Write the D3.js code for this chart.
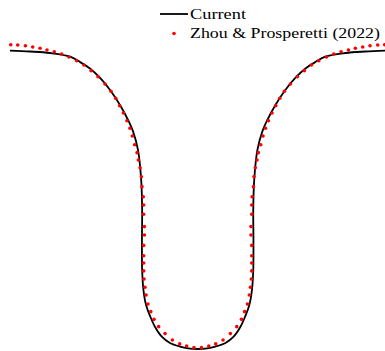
<!DOCTYPE html>
<html>
<head>
<meta charset="utf-8">
<script src="https://cdn.jsdelivr.net/npm/d3@7"></script>
<style>
  html, body { margin: 0; padding: 0; background: #fff; }
  svg { display: block; }
  text { font-family: "Liberation Serif", "DejaVu Serif", serif; fill: #000; }
</style>
</head>
<body>
<svg id="chart" width="385" height="351"></svg>
<script>
// Interface profile, present computation (continuous line)
const currentX = [-1.000, -0.893, -0.787, -0.680, -0.627, -0.574, -0.520, -0.467, -0.414, -0.371,
  -0.345, -0.318, -0.301, -0.296, -0.297, -0.296, -0.289, -0.275, -0.254, -0.227,
  -0.190, -0.148, -0.094, -0.041, 0.000,
  0.041, 0.094, 0.148, 0.190, 0.227, 0.254, 0.275, 0.289, 0.296, 0.297,
  0.296, 0.301, 0.318, 0.345, 0.371, 0.414, 0.467, 0.520, 0.574, 0.627,
  0.680, 0.787, 0.893, 1.000];
const currentY = [-0.003, -0.008, -0.016, -0.035, -0.064, -0.099, -0.149, -0.213, -0.293, -0.373,
  -0.432, -0.533, -0.693, -0.852, -1.012, -1.172, -1.279, -1.359, -1.417, -1.476,
  -1.529, -1.561, -1.580, -1.591, -1.593,
  -1.591, -1.580, -1.561, -1.529, -1.476, -1.417, -1.359, -1.279, -1.172, -1.012,
  -0.852, -0.693, -0.533, -0.432, -0.373, -0.293, -0.213, -0.149, -0.099, -0.064,
  -0.035, -0.016, -0.008, -0.003];

// Reference profile, Zhou & Prosperetti (2022) (markers)
const zpX = [-0.996, -0.959, -0.918, -0.879, -0.840, -0.803, -0.764, -0.725, -0.686, -0.645,
  -0.606, -0.568, -0.531, -0.494, -0.462, -0.437, -0.416, -0.396, -0.377, -0.361,
  -0.348, -0.336, -0.323, -0.316, -0.307, -0.300, -0.297, -0.290, -0.288, -0.288,
  -0.284, -0.284, -0.288, -0.288, -0.288, -0.288, -0.286, -0.281, -0.275, -0.265,
  -0.250, -0.233, -0.208, -0.174, -0.135, -0.096, -0.059, -0.020,
  0.020, 0.059, 0.096, 0.135, 0.174, 0.208, 0.233, 0.250,
  0.265, 0.275, 0.281, 0.286, 0.288, 0.288, 0.288, 0.288, 0.284, 0.284,
  0.288, 0.288, 0.290, 0.297, 0.300, 0.307, 0.316, 0.323, 0.336, 0.348,
  0.361, 0.377, 0.396, 0.416, 0.437, 0.462, 0.494, 0.531, 0.568, 0.606,
  0.645, 0.686, 0.725, 0.764, 0.803, 0.840, 0.879, 0.918, 0.959, 0.996];
const zpY = [0.028, 0.027, 0.023, 0.016, 0.009, 0.000, -0.009, -0.021, -0.037, -0.057,
  -0.080, -0.110, -0.142, -0.181, -0.220, -0.257, -0.297, -0.336, -0.377, -0.417,
  -0.458, -0.505, -0.547, -0.586, -0.627, -0.675, -0.728, -0.782, -0.826, -0.875,
  -0.941, -0.986, -1.041, -1.096, -1.135, -1.177, -1.220, -1.264, -1.305, -1.353,
  -1.394, -1.435, -1.474, -1.511, -1.545, -1.566, -1.577, -1.586,
  -1.586, -1.577, -1.566, -1.545, -1.511, -1.474, -1.435, -1.394,
  -1.353, -1.305, -1.264, -1.220, -1.177, -1.135, -1.096, -1.041, -0.986, -0.941,
  -0.875, -0.826, -0.782, -0.728, -0.675, -0.627, -0.586, -0.547, -0.505, -0.458,
  -0.417, -0.377, -0.336, -0.297, -0.257, -0.220, -0.181, -0.142, -0.110, -0.080,
  -0.057, -0.037, -0.021, -0.009, 0.000, 0.009, 0.016, 0.023, 0.027, 0.028];

const seriesNames = ["Current", "Zhou & Prosperetti (2022)"];

const svg = d3.select("#chart");

const x = d3.scaleLinear().domain([-1, 1]).range([10, 385.4]);
const y = d3.scaleLinear().domain([0, -1.6]).range([50, 350.3]);

const current = currentX.map((v, i) => [v, currentY[i]]);
const zp = zpX.map((v, i) => [v, zpY[i]]);

const line = d3.line()
  .x(d => x(d[0]))
  .y(d => y(d[1]))
  .curve(d3.curveCatmullRom.alpha(0.5));

svg.append("path")
  .datum(current)
  .attr("d", line)
  .attr("fill", "none")
  .attr("stroke", "#000")
  .attr("stroke-width", 1.8);

svg.append("g")
  .selectAll("circle")
  .data(zp)
  .join("circle")
  .attr("cx", d => x(d[0]))
  .attr("cy", d => y(d[1]))
  .attr("r", 1.8)
  .attr("fill", "#ff0000");

// Legend: handle line / marker, then label stretched to the serif label widths
const legend = svg.append("g");
legend.append("line")
  .attr("x1", 160).attr("x2", 188)
  .attr("y1", 14).attr("y2", 14)
  .attr("stroke", "#000").attr("stroke-width", 1.8);
legend.append("circle")
  .attr("cx", 174).attr("cy", 33.5).attr("r", 1.8)
  .attr("fill", "#ff0000");
const labelWidths = [56, 190];
legend.selectAll("text")
  .data(seriesNames)
  .join("text")
  .attr("x", 190)
  .attr("y", (d, i) => 18.8 + i * 19.4)
  .attr("font-size", 15)
  .attr("textLength", (d, i) => labelWidths[i])
  .attr("lengthAdjust", "spacingAndGlyphs")
  .text(d => d);
</script>
</body>
</html>
